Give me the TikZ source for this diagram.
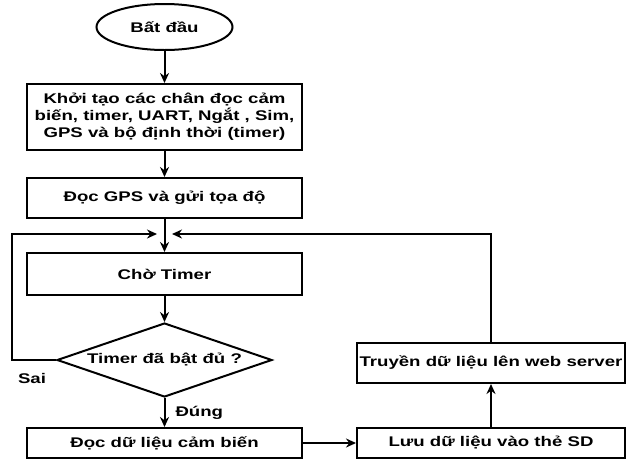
\documentclass[tikz,border=0pt]{standalone}
\usepackage{fontspec}
\setmainfont{Liberation Sans}[FakeStretch=1.33]
\usetikzlibrary{arrows.meta,positioning,shapes.geometric}

\begin{document}
\begin{tikzpicture}[
  x=1pt,y=-1pt,
  font=\fontsize{14}{17}\selectfont\bfseries,
  >={Stealth[length=10pt,width=9pt]},
  box/.style={draw, line width=2pt, align=center, inner sep=2pt, minimum width=275pt, minimum height=40pt},
  startnode/.style={draw, ellipse, line width=2pt, minimum width=136pt, minimum height=46pt},
  decide/.style={draw, diamond, line width=2pt, aspect=2.9, inner sep=0pt, minimum width=215pt, minimum height=74pt},
  lab/.style={inner sep=1pt},
  flow/.style={->, line width=2pt},
]
\useasboundingbox (0,0) rectangle (628,469);

%% ---------- MAIN COLUMN ----------
\node[startnode] (start) at (164.5,27) {Bất đầu};
\node[box, minimum height=66pt] (init) at (164.5,117)
  {Khởi tạo các chân đọc cảm\\ biến, timer, UART, Ngắt , Sim,\\ GPS và bộ định thời (timer)};
\node[box] (gps) at (164.5,198) {Đọc GPS và gửi tọa độ};
\node[box, minimum height=42pt] (wait) at (164.5,274) {Chờ Timer};
\node[decide] (check) at (164.5,360) {Timer đã bật đủ ?};
\node[box, minimum height=30pt] (read) at (164.5,443) {Đọc dữ liệu cảm biến};

%% ---------- RIGHT COLUMN ----------
\node[box, minimum width=268pt, minimum height=30pt] (save) at (491,443) {Lưu dữ liệu vào thẻ SD};
\node[box, minimum width=268pt] (send) at (491,363) {Truyền dữ liệu lên web server};

%% ---------- JOIN POINTS ----------
\coordinate (inL) at (157,234);
\coordinate (inR) at (172,234);
\coordinate (loopL) at (12,234);

%% ---------- ARROWS ----------
\draw[flow] (start) -- (init);
\draw[flow] (init) -- (gps);
\draw[flow] (gps) -- (wait);
\draw[flow] (wait) -- (check);
\draw[flow] (check) -- (read) node[pos=0.5,right=9pt,lab]{Đúng};
\draw[flow] (check.west) -| (loopL) -- (inL);
\node[lab] (no) at (32,378) {Sai};
\draw[flow] (read) -- (save);
\draw[flow] (save) -- (send);
\draw[flow] (send.north) |- (inR);
\end{tikzpicture}
\end{document}
